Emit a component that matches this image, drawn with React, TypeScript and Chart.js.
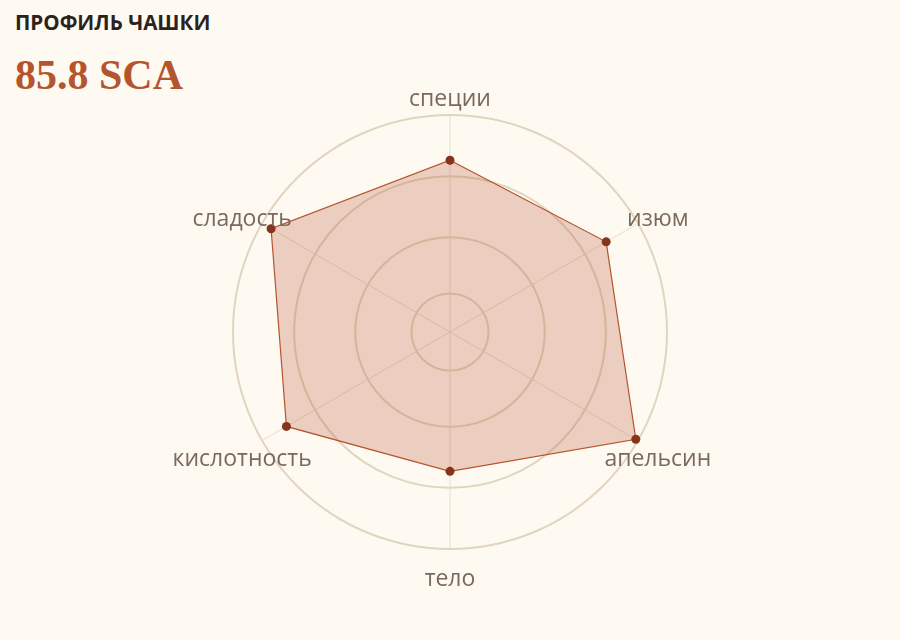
import React, { useEffect, useRef } from "react";
import { Chart, registerables } from "chart.js";

Chart.register(...registerables);

const categories = ["специи", "изюм", "апельсин", "тело", "кислотность", "сладость"];
const cupScores = [9.26, 9.4, 9.96, 8.73, 9.54, 9.83];
const gridTicks = [7.08, 8, 9, 10];
const scaleMin = 6.45;
const scaleMax = 10;
const titleText = "ПРОФИЛЬ ЧАШКИ";
const scoreText = "85.8 SCA";

const labelPlugin = {
  id: "cupLabels",
  afterDraw(chart: any) {
    const scale = chart.scales.r;
    const ctx = chart.ctx;
    ctx.save();
    ctx.font = "23px 'Open Sans'";
    ctx.fillStyle = "#7a6a5c";
    ctx.textAlign = "center";
    ctx.textBaseline = "alphabetic";
    (chart.data.labels as string[]).forEach((lbl, i) => {
      const p = scale.getPointPosition(i, scale.drawingArea + 23);
      ctx.fillText(lbl, p.x, p.y + 14);
    });
    ctx.restore();
  },
};

export default function App() {
  const ref = useRef<HTMLCanvasElement | null>(null);

  useEffect(() => {
    if (!ref.current) return;
    const chart = new Chart(ref.current, {
      type: "radar",
      data: {
        labels: categories,
        datasets: [
          {
            data: cupScores,
            borderColor: "#b5532d",
            borderWidth: 1.2,
            backgroundColor: "rgba(181,83,45,0.26)",
            fill: true,
            pointRadius: 4.5,
            pointBorderWidth: 0,
            pointBackgroundColor: "#86341b",
            pointBorderColor: "#86341b",
          },
        ],
      },
      options: {
        animation: false,
        responsive: true,
        maintainAspectRatio: false,
        layout: { padding: { left: 232.5, right: 232.5, top: 114.5, bottom: 90.5 } },
        plugins: {
          legend: { display: false },
          tooltip: { enabled: false },
          title: { display: false },
        },
        scales: {
          r: {
            min: scaleMin,
            max: scaleMax,
            afterBuildTicks: (scale: any) => {
              scale.ticks = [scaleMin, ...gridTicks].map((v) => ({ value: v }));
            },
            ticks: { display: false },
            pointLabels: { display: false },
            grid: { circular: true, color: "#e2d5c0", lineWidth: 2 },
            angleLines: { display: true, color: "#e6dccb", lineWidth: 1 },
          },
        },
      },
      plugins: [labelPlugin],
    });
    return () => chart.destroy();
  }, []);

  return (
    <div
      style={{
        position: "fixed",
        left: 0,
        top: 0,
        width: 900,
        height: 640,
        background: "#fefaf2",
        overflow: "hidden",
      }}
    >
      <div
        style={{
          position: "absolute",
          left: 15,
          top: 11,
          fontFamily: "'Open Sans', 'Noto Sans', sans-serif",
          fontWeight: 700,
          fontSize: 20.6,
          lineHeight: "22px",
          color: "#2b211d",
          whiteSpace: "nowrap",
        }}
      >
        {titleText}
      </div>
      <div
        style={{
          position: "absolute",
          left: 15,
          top: 54,
          fontFamily: "'Liberation Serif', serif",
          fontWeight: 700,
          fontSize: 42,
          lineHeight: "42px",
          color: "#b5552e",
          whiteSpace: "nowrap",
        }}
      >
        {scoreText}
      </div>
      <div style={{ position: "absolute", left: 0, top: 0, width: 900, height: 640 }}>
        <canvas ref={ref} />
      </div>
    </div>
  );
}
